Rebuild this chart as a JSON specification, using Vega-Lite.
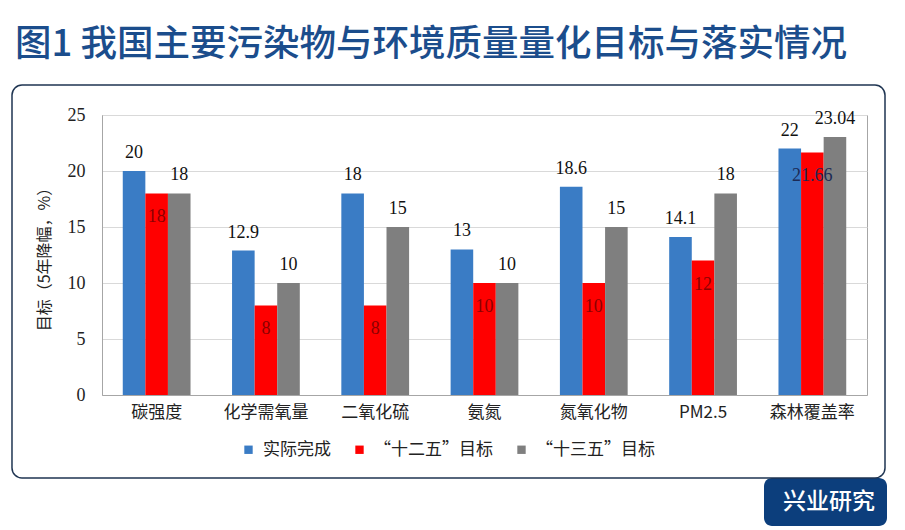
{
  "$schema": "https://vega.github.io/schema/vega-lite/v6.json",
  "width": 765,
  "height": 280,
  "autosize": {"type": "none"},
  "padding": {"left": 102, "top": 115, "right": 38, "bottom": 135},
  "background": "white",
  "title": {
    "text": "图1 我国主要污染物与环境质量量化目标与落实情况",
    "anchor": "start",
    "frame": "group",
    "dx": -87,
    "offset": 21,
    "fontSize": 36.5,
    "font": "Noto Sans CJK SC",
    "fontWeight": 500,
    "color": "#1b4d8c"
  },
  "layer": [
    {
      "data": {
        "values": [
          {"cat": "碳强度", "series": "实际完成", "value": 20},
          {"cat": "碳强度", "series": "“十二五”目标", "value": 18},
          {"cat": "碳强度", "series": "“十三五”目标", "value": 18},
          {"cat": "化学需氧量", "series": "实际完成", "value": 12.9},
          {"cat": "化学需氧量", "series": "“十二五”目标", "value": 8},
          {"cat": "化学需氧量", "series": "“十三五”目标", "value": 10},
          {"cat": "二氧化硫", "series": "实际完成", "value": 18},
          {"cat": "二氧化硫", "series": "“十二五”目标", "value": 8},
          {"cat": "二氧化硫", "series": "“十三五”目标", "value": 15},
          {"cat": "氨氮", "series": "实际完成", "value": 13},
          {"cat": "氨氮", "series": "“十二五”目标", "value": 10},
          {"cat": "氨氮", "series": "“十三五”目标", "value": 10},
          {"cat": "氮氧化物", "series": "实际完成", "value": 18.6},
          {"cat": "氮氧化物", "series": "“十二五”目标", "value": 10},
          {"cat": "氮氧化物", "series": "“十三五”目标", "value": 15},
          {"cat": "PM2.5", "series": "实际完成", "value": 14.1},
          {"cat": "PM2.5", "series": "“十二五”目标", "value": 12},
          {"cat": "PM2.5", "series": "“十三五”目标", "value": 18},
          {"cat": "森林覆盖率", "series": "实际完成", "value": 22},
          {"cat": "森林覆盖率", "series": "“十二五”目标", "value": 21.66},
          {"cat": "森林覆盖率", "series": "“十三五”目标", "value": 23.04}
        ]
      },
      "encoding": {
        "x": {
          "field": "cat",
          "type": "nominal",
          "sort": null,
          "scale": {"paddingInner": 0.38, "paddingOuter": 0.19},
          "axis": {
            "title": null,
            "labelAngle": 0,
            "ticks": false,
            "labelPadding": 9,
            "labelFont": "Noto Sans CJK SC",
            "labelFontSize": 17,
            "labelColor": "#222222",
            "domainColor": "#a6a6a6"
          }
        },
        "xOffset": {
          "field": "series",
          "type": "nominal",
          "sort": ["实际完成", "“十二五”目标", "“十三五”目标"],
          "scale": {"paddingInner": 0, "paddingOuter": 0}
        },
        "y": {
          "field": "value",
          "type": "quantitative",
          "scale": {"domain": [0, 25], "nice": false},
          "axis": {
            "title": "目标（5年降幅，%）",
            "titleFont": "Noto Sans CJK SC",
            "titleFontSize": 16,
            "titleFontWeight": "normal",
            "titleColor": "#222222",
            "titlePadding": 15,
            "values": [0, 5, 10, 15, 20, 25],
            "ticks": false,
            "labelPadding": 17,
            "labelFont": "Liberation Serif",
            "labelFontSize": 18,
            "labelColor": "#222222",
            "gridColor": "#d9d9d9",
            "domainColor": "#a6a6a6"
          }
        }
      },
      "layer": [
        {
          "mark": {"type": "bar"},
          "encoding": {
            "color": {
              "field": "series",
              "type": "nominal",
              "scale": {
                "domain": ["实际完成", "“十二五”目标", "“十三五”目标"],
                "range": ["#3a7cc5", "#ff0000", "#7f7f7f"]
              },
              "legend": {
                "title": null,
                "orient": "none",
                "legendX": 138,
                "legendY": 326,
                "direction": "horizontal",
                "symbolType": "square",
                "symbolSize": 70,
                "symbolStrokeWidth": 0,
                "labelFont": "Noto Sans CJK SC",
                "labelFontSize": 17,
                "labelColor": "#222222",
                "columnPadding": 20,
                "labelOffset": 6
              }
            }
          }
        },
        {
          "transform": [{"filter": "datum.series !== '“十二五”目标'"}],
          "mark": {
            "type": "text",
            "baseline": "alphabetic",
            "dy": -13,
            "font": "Liberation Serif",
            "fontSize": 18,
            "color": "#111111"
          },
          "encoding": {"text": {"field": "value", "type": "nominal"}}
        },
        {
          "transform": [{"filter": "datum.series === '“十二五”目标'"}],
          "mark": {
            "type": "text",
            "baseline": "top",
            "dy": 15,
            "font": "Liberation Serif",
            "fontSize": 18
          },
          "encoding": {
            "text": {"field": "value", "type": "nominal"},
            "color": {
              "condition": {"test": "datum.cat === '森林覆盖率'", "value": "#1c2a55"},
              "value": "#8b0000"
            }
          }
        }
      ]
    },
    {
      "data": {"values": [{"badge": "兴业研究"}]},
      "mark": {"type": "point", "opacity": 0},
      "encoding": {
        "shape": {
          "field": "badge",
          "type": "nominal",
          "legend": {
            "title": null,
            "orient": "none",
            "legendX": 662,
            "legendY": 363,
            "fillColor": "#0c3e7c",
            "cornerRadius": 8,
            "padding": 12,
            "labelFont": "Noto Sans CJK SC",
            "labelFontSize": 23,
            "labelFontWeight": 500,
            "labelColor": "#ffffff",
            "labelLimit": 300,
            "symbolSize": 1,
            "symbolOpacity": 0,
            "symbolStrokeWidth": 0,
            "labelOffset": -16
          }
        }
      }
    },
    {
      "data": {"values": [{"v": 0}, {"v": 1}]},
      "mark": {"type": "point", "opacity": 0},
      "encoding": {
        "fill": {
          "field": "v",
          "type": "quantitative",
          "legend": {
            "title": null,
            "orient": "none",
            "legendX": -90,
            "legendY": -30,
            "direction": "horizontal",
            "gradientLength": 873,
            "gradientThickness": 392,
            "gradientOpacity": 0,
            "gradientStrokeWidth": 0,
            "labels": false,
            "labelOpacity": 0,
            "labelFontSize": 1,
            "labelOffset": 0,
            "padding": 0,
            "strokeColor": "#1f3552",
            "cornerRadius": 10,
            "encode": {"legend": {"update": {"strokeWidth": {"value": 1.5}}}}
          }
        }
      }
    }
  ],
  "config": {
    "view": {"stroke": "#a6a6a6"}
  }
}
